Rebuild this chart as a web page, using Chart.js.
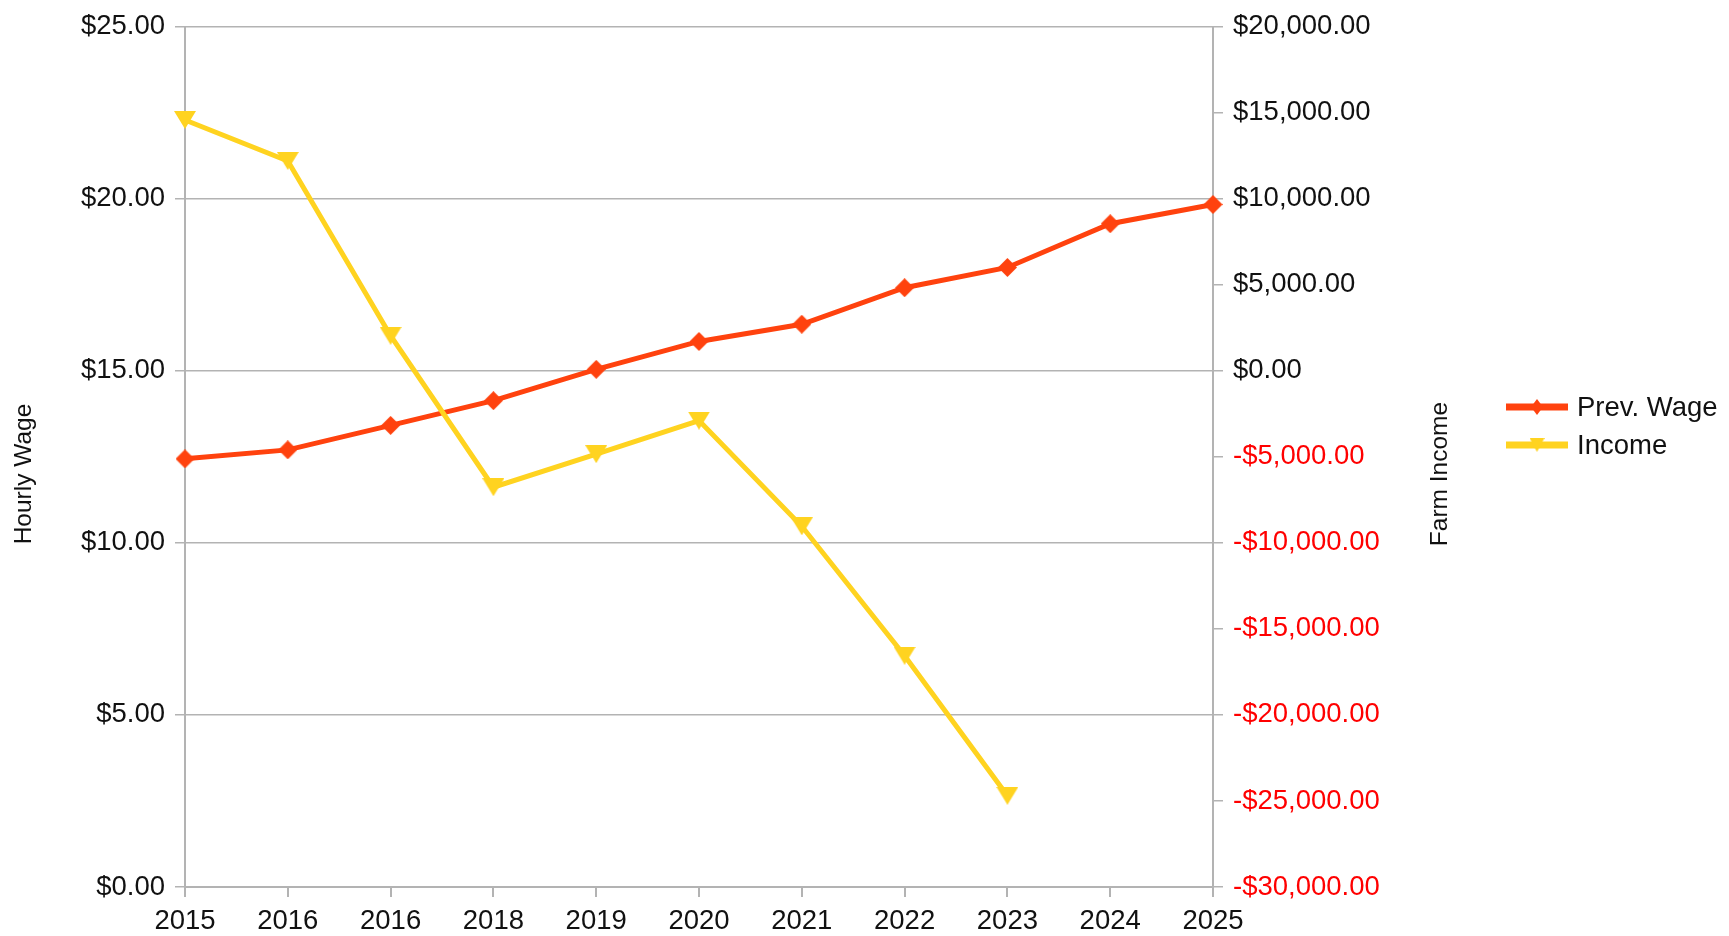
<!DOCTYPE html>
<html><head><meta charset="utf-8">
<script src="https://cdn.jsdelivr.net/npm/chart.js@4.4.0/dist/chart.umd.min.js"></script>
<style>html,body{margin:0;padding:0;background:#fff;overflow:hidden}#wrap{width:1729px;height:936px;position:relative}</style>
</head><body><div id="wrap"><canvas id="c" width="1729" height="936"></canvas></div>
<script>
const categories = ['2015','2016','2016','2018','2019','2020','2021','2022','2023','2024','2025'];
const prevWage = [12.44, 12.70, 13.41, 14.13, 15.04, 15.85, 16.35, 17.41, 18.00, 19.27, 19.83];
const income = [14570, 12190, 2030, -6770, -4850, -2900, -9040, -16560, -24700, null, null];
const wageTickValues = [0, 5, 10, 15, 20, 25];
const incomeTickValues = [-30000, -25000, -20000, -15000, -10000, -5000, 0, 5000, 10000, 15000, 20000];
const seriesNames = ['Prev. Wage', 'Income'];
const axisTitles = ['Hourly Wage', 'Farm Income'];

const RED = '#ff420e', YELLOW = '#ffd320', GRID = '#b3b3b3', TXT = '#111111';
const FONT = '"Liberation Sans", Arial, sans-serif';

function triCanvas(w, h, color) {
  const c = document.createElement('canvas'); c.width = w; c.height = h;
  const x = c.getContext('2d'); x.fillStyle = color;
  x.beginPath(); x.moveTo(0, 0); x.lineTo(w, 0); x.lineTo(w / 2, h); x.closePath(); x.fill();
  return c;
}
function diaCanvas(w, h, color) {
  const c = document.createElement('canvas'); c.width = w; c.height = h;
  const x = c.getContext('2d'); x.fillStyle = color;
  x.beginPath(); x.moveTo(w / 2, 0); x.lineTo(w, h / 2); x.lineTo(w / 2, h); x.lineTo(0, h / 2); x.closePath(); x.fill();
  return c;
}
const triPoint = triCanvas(22, 18, YELLOW);
const diaPoint = diaCanvas(19, 19, RED);
const triLegend = triCanvas(15, 14, YELLOW);
const diaLegend = diaCanvas(12, 16, RED);

function fmtMoney(v) {
  const s = Math.abs(v).toLocaleString('en-US', {minimumFractionDigits: 2, maximumFractionDigits: 2});
  return (v < 0 ? '-' : '') + '$' + s;
}

const overlay = {
  id: 'overlay',
  afterDraw(chart) {
    const ctx = chart.ctx;
    ctx.save();
    ctx.fillStyle = TXT;
    ctx.font = '24.5px ' + FONT;
    ctx.textAlign = 'center';
    ctx.textBaseline = 'alphabetic';
    ctx.save(); ctx.translate(31, 474); ctx.rotate(-Math.PI / 2); ctx.fillText(axisTitles[0], 0, 0); ctx.restore();
    ctx.save(); ctx.translate(1447, 474); ctx.rotate(-Math.PI / 2); ctx.fillText(axisTitles[1], 0, 0); ctx.restore();
    const rows = [
      {name: seriesNames[0], color: RED, mk: diaLegend, y: 407},
      {name: seriesNames[1], color: YELLOW, mk: triLegend, y: 445}
    ];
    ctx.font = '27.5px ' + FONT;
    ctx.textAlign = 'left';
    ctx.textBaseline = 'middle';
    rows.forEach(r => {
      ctx.fillStyle = r.color;
      ctx.fillRect(1506, r.y - 3.5, 62, 7);
      ctx.drawImage(r.mk, 1537 - r.mk.width / 2, r.y - r.mk.height / 2);
      ctx.fillStyle = TXT;
      ctx.fillText(r.name, 1577, r.y + 1);
    });
    ctx.restore();
  }
};

new Chart(document.getElementById('c'), {
  type: 'line',
  data: {
    labels: categories,
    datasets: [
      {label: seriesNames[0], data: prevWage, yAxisID: 'yL', borderColor: RED, backgroundColor: RED,
       borderWidth: 5, pointStyle: diaPoint, pointRadius: 9, pointHoverRadius: 9, tension: 0, order: 1},
      {label: seriesNames[1], data: income, yAxisID: 'yR', borderColor: YELLOW, backgroundColor: YELLOW,
       borderWidth: 5, pointStyle: triPoint, pointRadius: 11, pointHoverRadius: 11, tension: 0, order: 0}
    ]
  },
  options: {
    responsive: false,
    animation: false,
    events: [],
    layout: {padding: {top: 25, right: 316, left: 0, bottom: 0}},
    plugins: {legend: {display: false}, tooltip: {enabled: false}, title: {display: false}},
    scales: {
      x: {
        type: 'category', offset: false,
        grid: {display: true, drawOnChartArea: false, drawTicks: true, tickLength: 10, color: GRID, lineWidth: 2},
        border: {display: true, color: GRID, width: 2},
        ticks: {color: TXT, font: {family: FONT, size: 27.5}, padding: 8, maxRotation: 0, autoSkip: false},
        afterFit(s) { s.height = 49; }
      },
      yL: {
        type: 'linear', position: 'left', min: 0, max: 25,
        afterBuildTicks(s) { s.ticks = wageTickValues.map(v => ({value: v})); },
        grid: {display: true, drawOnChartArea: true, drawTicks: true, tickLength: 10, color: GRID, lineWidth: 1.5},
        border: {display: true, color: GRID, width: 2},
        ticks: {color: TXT, font: {family: FONT, size: 27.5}, padding: 10, callback: v => '$' + Number(v).toFixed(2)},
        afterFit(s) { s.width = 185; }
      },
      yR: {
        type: 'linear', position: 'right', min: -30000, max: 20000,
        afterBuildTicks(s) { s.ticks = incomeTickValues.map(v => ({value: v})); },
        grid: {display: true, drawOnChartArea: false, drawTicks: true, tickLength: 10, color: GRID, lineWidth: 1.5},
        border: {display: true, color: GRID, width: 2},
        ticks: {color: ctx => (ctx.tick && ctx.tick.value < 0 ? '#ff0000' : TXT), font: {family: FONT, size: 27.5}, padding: 10,
                callback: v => fmtMoney(v)},
        afterFit(s) { s.width = 200; }
      }
    }
  },
  plugins: [overlay]
});
</script></body></html>
